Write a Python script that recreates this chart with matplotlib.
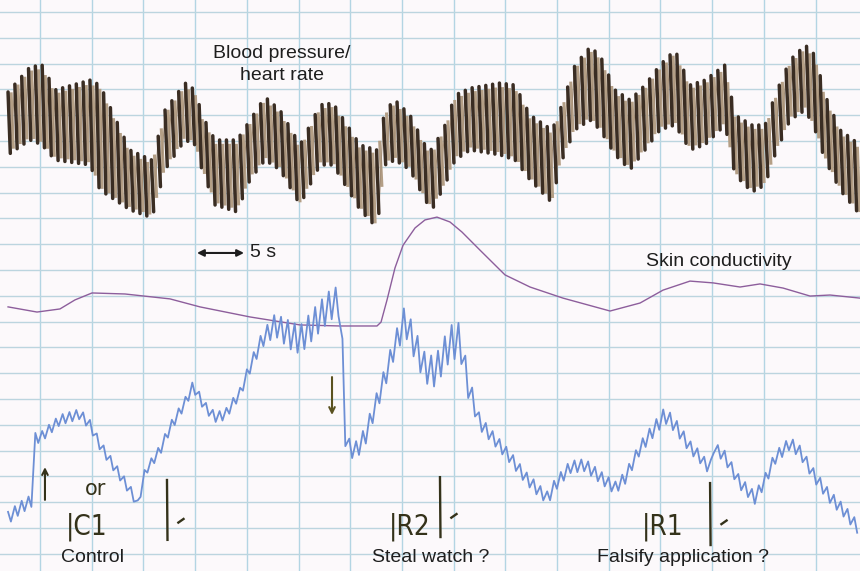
import numpy as np
import matplotlib
matplotlib.use("Agg")
import matplotlib.pyplot as plt
from matplotlib.collections import LineCollection

plt.rcParams['font.family'] = ['Liberation Sans', 'DejaVu Sans']

# ---- data: time in seconds (5 s per major division), level in chart divisions ----
bp_time = [-3.09, -0.97, 0.19, 1.45, 4.84, 5.80, 8.70, 10.83, 12.09, 14.02, 14.99,
           15.67, 16.92, 19.05, 20.31, 21.76, 23.21, 25.15, 27.08, 28.34, 30.95,
           32.59, 33.37, 34.33, 35.78, 37.23, 37.91, 39.17, 40.14, 41.59, 44.49,
           45.94, 47.39, 49.52, 50.29, 51.74, 53.19, 54.16, 55.61, 57.06, 58.51,
           59.96, 61.41, 62.86, 64.31, 66.25, 67.21, 68.86, 70.12, 71.08, 72.53,
           74.01, 74.95, 75.92, 77.37, 79.30]
bp_peak = [18.90, 19.87, 19.95, 18.98, 19.36, 19.17, 16.65, 16.26, 18.20, 19.25, 18.98,
           18.01, 17.04, 17.04, 17.81, 18.71, 18.20, 16.85, 18.40, 18.47, 16.85,
           16.65, 18.20, 18.59, 18.01, 16.85, 16.65, 17.62, 18.78, 19.05, 19.25,
           19.17, 18.01, 17.43, 18.20, 19.95, 20.64, 20.33, 18.98, 18.59, 19.17,
           19.95, 20.53, 19.17, 19.36, 19.95, 18.01, 17.62, 17.62, 18.78, 20.14,
           20.72, 20.33, 18.78, 17.43, 16.85]
bp_trough = [16.46, 17.04, 16.85, 16.26, 16.07, 15.10, 14.33, 14.02, 15.88, 17.04, 16.85,
             15.88, 14.52, 14.25, 15.49, 16.26, 15.88, 14.52, 16.07, 16.07, 14.33,
             13.63, 16.07, 16.26, 15.88, 14.71, 14.33, 15.29, 16.26, 16.65, 16.46,
             16.26, 15.49, 14.60, 16.07, 17.43, 17.81, 17.43, 16.46, 15.88, 16.65,
             17.43, 17.62, 16.65, 16.85, 17.62, 15.68, 15.02, 15.29, 16.46, 17.81,
             18.20, 17.43, 16.26, 15.10, 14.13]
heartbeat_period = 0.66  # s, spacing of pulse strokes

sc_time = [-3.09, -0.29, 1.93, 3.38, 5.03, 8.22, 12.57, 15.47, 20.31, 25.15, 29.01,
           32.59, 32.98, 33.56, 34.33, 35.11, 36.27, 37.23, 38.39, 39.65, 40.81,
           42.55, 44.97, 47.39, 50.58, 55.13, 58.03, 60.25, 62.86, 65.09, 67.70,
           69.63, 71.86, 74.47, 76.40, 79.30]
sc_level = [10.57, 10.37, 10.49, 10.84, 11.11, 11.07, 10.88, 10.57, 10.18, 9.87, 9.83,
            9.83, 9.98, 10.84, 12.08, 12.96, 13.63, 13.94, 14.05, 13.86, 13.47,
            12.77, 11.81, 11.34, 10.91, 10.41, 10.72, 11.22, 11.57, 11.50, 11.34,
            11.46, 11.30, 10.99, 11.03, 10.91]

resp_time = [-3.09, -1.93, -0.68, -0.48, 0.00, 1.93, 3.87, 4.84, 5.80, 7.25, 8.70,
             9.48, 10.15, 11.61, 12.57, 14.02, 14.80, 15.96, 16.92, 17.89, 19.34,
             20.31, 21.47, 22.73, 24.18, 25.15, 26.60, 28.05, 29.11, 29.50, 29.69,
             30.46, 31.43, 32.40, 33.37, 34.33, 35.30, 36.27, 37.23, 38.20, 39.65,
             40.62, 41.39, 42.55, 44.00, 45.45, 46.91, 48.36, 49.13, 49.81, 51.26,
             52.71, 54.16, 55.61, 56.58, 58.03, 59.48, 60.44, 61.41, 62.86, 63.83,
             64.80, 65.18, 66.25, 67.70, 69.15, 70.12, 71.08, 72.53, 73.50, 74.95,
             76.40, 77.85, 79.30]
resp_level = [2.39, 2.78, 3.09, 5.49, 5.49, 6.19, 6.42, 5.99, 5.22, 4.33, 3.47,
              2.89, 4.17, 5.02, 5.88, 6.85, 7.50, 6.69, 6.30, 6.38, 7.23,
              8.24, 9.29, 9.87, 9.48, 9.29, 9.98, 10.64, 10.84, 5.41, 5.22,
              4.95, 5.53, 6.69, 7.85, 9.09, 10.06, 9.09, 8.20, 8.05, 9.17,
              9.29, 7.54, 6.07, 5.41, 4.75, 3.98, 3.40, 3.16, 3.67, 4.36,
              4.44, 3.98, 3.55, 3.94, 5.10, 5.88, 6.38, 5.99, 5.14, 4.75,
              4.25, 5.14, 4.75, 3.74, 3.16, 3.86, 4.71, 5.29, 4.95, 3.98,
              3.20, 2.62, 1.92]
resp_ripple = [0.47, 0.47, 0.47, 0.39, 0.39, 0.39, 0.39, 0.39, 0.39, 0.39, 0.39,
               0.31, 0.31, 0.39, 0.39, 0.39, 0.39, 0.39, 0.39, 0.39, 0.39,
               0.47, 0.58, 0.85, 1.09, 1.09, 1.16, 1.16, 1.16, 0.39, 0.62,
               0.70, 0.70, 0.70, 0.78, 0.85, 1.16, 1.16, 1.16, 1.16, 1.36,
               1.36, 0.97, 0.54, 0.47, 0.47, 0.47, 0.47, 0.47, 0.47, 0.47,
               0.47, 0.47, 0.47, 0.47, 0.47, 0.54, 0.62, 0.54, 0.47, 0.47,
               0.39, 0.39, 0.47, 0.47, 0.47, 0.47, 0.47, 0.47, 0.47, 0.47,
               0.47, 0.47, 0.47]

grid_time = list(range(0, 80, 5))
grid_level = list(range(1, 23))

question_labels = ["Control", "Steal watch ?", "Falsify application ?"]
question_time = [5.03, 37.81, 62.19]
marker_labels = ["|C1", "|R2", "|R1"]
marker_time = [4.55, 35.78, 60.25]
mark_time = [12.28, 38.68, 64.80]
mark_bottom = [1.54, 1.65, 1.34]
mark_top = [3.86, 3.97, 3.74]
dash_level = [2.28, 2.47, 2.22]

# ---- figure ----
fig = plt.figure(figsize=(8.6, 5.71), dpi=100, facecolor='#fcf9fb')
ax = fig.add_axes([0, 0, 1, 1])
ax.set_facecolor('#fcf9fb')
ax.set_xlim(-3.868, 79.30)
ax.set_ylim(0.333, 22.465)
ax.axis('off')

for g in grid_time:
    ax.axvline(g, color='#b3d5e3', lw=1.0, zorder=0)
for g in grid_level:
    ax.axhline(g, color='#bcd5df', lw=1.0, zorder=0)

# blood pressure / heart rate trace: dark slow stroke + faint fast stroke per beat
slant = 0.22
bt = np.arange(bp_time[0], bp_time[-1], heartbeat_period)
top = np.interp(bt, bp_time, bp_peak)
bot = np.interp(bt + slant, bp_time, bp_trough)
lt = bt + 0.45 * heartbeat_period
ltop = np.interp(lt, bp_time, bp_peak) - 0.15
lbot = np.interp(lt + slant, bp_time, bp_trough) + 0.1
light = [[(lt[i], ltop[i]), (lt[i] + slant, lbot[i])] for i in range(len(bt))]
ax.add_collection(LineCollection(light, colors='#b49f86', linewidths=2.2, zorder=2))
xs = np.empty(2 * len(bt)); ys = np.empty(2 * len(bt))
xs[0::2] = bt; xs[1::2] = bt + slant
ys[0::2] = top; ys[1::2] = bot
ax.plot(xs, ys, color='#a48e76', lw=0.7, zorder=2)
dark = [[(bt[i], top[i]), (bt[i] + slant, bot[i])] for i in range(len(bt))]
ax.add_collection(LineCollection(dark, colors='#3a2d23', linewidths=2.5, zorder=3,
                                 capstyle='round'))

# skin conductivity
ax.plot(sc_time, sc_level, color='#8d5e9c', lw=1.0, zorder=2)

# blue trace with pulse ripple
rt = np.arange(resp_time[0], resp_time[-1], heartbeat_period)
rx = np.empty(2 * len(rt)); ry = np.empty(2 * len(rt))
rx[0::2] = rt; rx[1::2] = rt + 0.42 * heartbeat_period
base = np.interp(rx, resp_time, resp_level)
amp = np.interp(rx, resp_time, resp_ripple) / 2
ry[0::2] = base[0::2] + amp[0::2]
ry[1::2] = base[1::2] - amp[1::2]
ax.plot(rx, ry, color='#6d8fd5', lw=1.3, zorder=4)

# printed labels
tc = '#1e1e1e'
fs = 14
ax.text(23.40, 20.41, "Blood pressure/", ha='center', va='center', fontsize=fs, color=tc)
ax.text(23.40, 19.52, "heart rate", ha='center', va='center', fontsize=fs, color=tc)
ax.text(65.67, 12.31, "Skin conductivity", ha='center', va='center', fontsize=fs, color=tc)
for lab, t in zip(question_labels, question_time):
    ax.text(t, 0.86, lab, ha='center', va='center', fontsize=fs, color=tc)
ax.annotate("", xy=(15.18, 12.66), xytext=(19.73, 12.66),
            arrowprops=dict(arrowstyle='<|-|>', color=tc, lw=1.5, mutation_scale=10,
                            shrinkA=0, shrinkB=0))
ax.text(20.31, 12.66, "5 s", ha='left', va='center', fontsize=fs, color=tc)

# handwritten annotations
hc = '#34321a'
for lab, t in zip(marker_labels, marker_time):
    ax.text(t, 2.05, lab, ha='center', va='center', fontsize=20, color=hc,
            family=['DejaVu Sans'], fontstretch='condensed')
ax.text(5.42, 3.51, "or", ha='center', va='center', fontsize=15, color=hc,
        family=['DejaVu Sans'])
for t, b, tp, d in zip(mark_time, mark_bottom, mark_top, dash_level):
    ax.plot([t, t + 0.05], [tp, b], color=hc, lw=1.7)
    ax.plot([t + 1.1, t + 1.6], [d - 0.07, d + 0.07], color=hc, lw=1.7)
ax.annotate("", xy=(0.48, 4.36), xytext=(0.48, 3.09),
            arrowprops=dict(arrowstyle='->', color=hc, lw=1.5, mutation_scale=10,
                            shrinkA=0, shrinkB=0))
ax.annotate("", xy=(28.24, 6.38), xytext=(28.24, 7.85),
            arrowprops=dict(arrowstyle='->', color='#5a5220', lw=1.5, mutation_scale=10,
                            shrinkA=0, shrinkB=0))

fig.savefig("out.png", dpi=100, facecolor=fig.get_facecolor())
